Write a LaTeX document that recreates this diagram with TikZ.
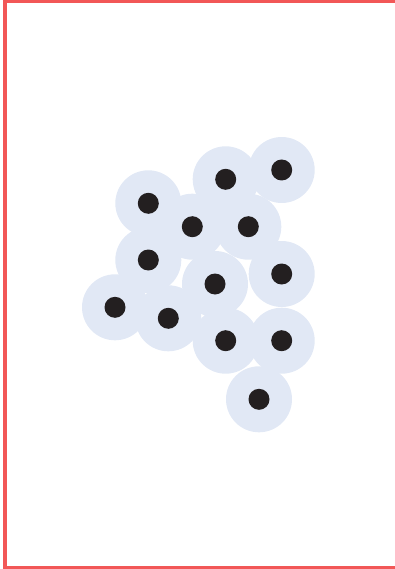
\documentclass[tikz,border=0pt]{standalone}
\definecolor{framered}{HTML}{F25757}
\definecolor{halo}{HTML}{E1E8F5}
\definecolor{dotblack}{HTML}{231F20}
\begin{document}
\begin{tikzpicture}[x=1pt,y=-1pt,
  halobox/.style={circle,fill=halo,minimum size=66pt,inner sep=0pt,outer sep=0pt},
  dotbox/.style={circle,fill=dotblack,minimum size=21pt,inner sep=0pt,outer sep=0pt}]
\useasboundingbox (0,0) rectangle (395,569);
\draw[framered,line width=4pt] (395,1.5) -- (5,1.5) -- (5,567.5) -- (395,567.5);
\foreach \n/\x/\y in {a/148.3/203.3, b/225.7/179.3, c/281.7/170, d/192.3/226.7, e/248.3/226.7,
  f/148.3/260, g/215/284, h/281.7/274, i/115/307.3, j/168.3/318.3, k/225.7/340.7, l/281.7/340.7, m/259/399.3}
  \node[halobox] (h\n) at (\x,\y) {};
\foreach \n/\x/\y in {a/148.3/203.3, b/225.7/179.3, c/281.7/170, d/192.3/226.7, e/248.3/226.7,
  f/148.3/260, g/215/284, h/281.7/274, i/115/307.3, j/168.3/318.3, k/225.7/340.7, l/281.7/340.7, m/259/399.3}
  \node[dotbox] (d\n) at (\x,\y) {};
\end{tikzpicture}
\end{document}
